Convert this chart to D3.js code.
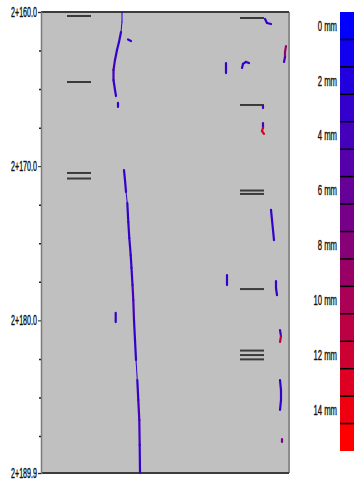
<!DOCTYPE html>
<html>
<head>
<meta charset="utf-8">
<script src="https://cdn.jsdelivr.net/npm/d3@7"></script>
<style>
	body { margin: 0; background: #fff; }
	text { font-family: "Liberation Sans", Arial, sans-serif; fill: #111; }
</style>
</head>
<body>
<div id="chart"></div>
<script>
// stations along the strip (m after 2+000)
const stations = [160, 170, 180, 189.9];
const minorStations = [162.5, 165, 167.5, 172.5, 175, 177.5, 182.5, 185, 187.5];
const widthClasses = d3.range(16); // crack width classes, mm
const legendLabels = [0, 2, 4, 6, 8, 10, 12, 14];

// joint marks, by column
const markColumns = [[26, 50], [199, 223]];
const leftMarks = [160.26, 164.54, 170.44, 170.80];
const rightMarks = [160.39, 166.03, 171.58, 171.80, 177.97, 181.96, 182.25, 182.53];

// cracks: [offset cm, station m, width mm]
const crackA = [[81, 160.0, 1], [81, 160.65, 1], [80, 161.30, 2], [78, 161.95, 3], [76, 162.46, 3],
	[74, 163.11, 3], [72.5, 163.76, 4], [72.5, 164.41, 3], [74, 165.06, 3], [75, 165.45, 3]];
const crackB = [[83, 170.25, 3], [84, 170.90, 3], [85, 171.67, 1], [86.3, 172.39, 3], [87.3, 173.62, 3],
	[88.3, 174.66, 3], [89.7, 175.76, 3], [90.5, 176.60, 3], [91.5, 177.71, 3], [92.3, 178.68, 4],
	[93, 179.98, 3], [94, 181.27, 3], [95, 182.57, 1], [96.3, 183.87, 3], [97.3, 185.17, 3],
	[98.3, 186.46, 4], [98.7, 188.08, 3], [99, 189.9, 3]];
const fragments = [
	[[77, 165.90, 3], [77, 166.16, 3]],
	[[87, 161.78, 3], [90, 161.88, 3]],
	[[74.7, 179.52, 3], [74.7, 180.11, 3]],
	[[224, 160.45, 3], [226, 160.71, 3], [230, 160.78, 3]],
	[[245, 162.21, 5], [244, 162.59, 9], [244, 162.92, 4], [243, 163.24, 4]],
	[[185, 163.31, 3], [185, 163.63, 3], [185, 163.96, 3]],
	[[201, 163.63, 3], [202, 163.37, 3], [205, 163.24, 3], [208, 163.31, 3]],
	[[222, 166.10, 4], [222, 166.23, 4]],
	[[222, 167.20, 4], [222, 167.52, 4], [221, 167.72, 13], [223, 167.91, 13]],
	[[230, 172.84, 3], [231, 173.49, 3], [232, 174.14, 3], [233, 174.79, 3]],
	[[186, 177.06, 3], [186, 177.71, 3]],
	[[235, 177.45, 3], [235, 177.90, 3], [236, 178.36, 3]],
	[[239, 180.63, 3], [240, 181.02, 4], [239, 181.40, 11]],
	[[239, 183.87, 3], [240, 184.52, 3], [240, 185.17, 3], [239, 185.81, 3]],
	[[241, 187.70, 7], [241, 187.89, 7]]
];

const W = 354, H = 480;
const svg = d3.select('#chart').append('svg')
	.attr('width', W)
	.attr('height', H);

const x = d3.scaleLinear().domain([0, 248]).range([41, 289]);
const y = d3.scaleLinear().domain([160, 189.9]).range([12, 473]);
const color = d3.scaleOrdinal()
	.domain(widthClasses)
	.range(widthClasses.map(i => d3.interpolateRgb('#0000ff', '#ff0000')(i / 15)));

// plot background
svg.append('rect')
	.attr('x', x(0)).attr('y', y(160))
	.attr('width', x(248) - x(0)).attr('height', y(189.9) - y(160))
	.style('fill', '#c0c0c0');

// frame
svg.append('line').attr('x1', x(248)).attr('x2', x(248)).attr('y1', y(160)).attr('y2', y(189.9))
	.style('stroke', '#8c8c8c').style('stroke-width', 2);
svg.append('line').attr('x1', x(0)).attr('x2', x(248)).attr('y1', y(160)).attr('y2', y(160))
	.style('stroke', '#3c3c3c').style('stroke-width', 2);
svg.append('line').attr('x1', x(0)).attr('x2', x(248)).attr('y1', y(189.9)).attr('y2', y(189.9))
	.style('stroke', '#3c3c3c').style('stroke-width', 2);

// axes (labels squeezed horizontally, like the narrow font of the original)
const squeeze = 0.51;
const yAxis = svg.append('g')
	.attr('transform', `translate(${x(0)},0)`)
	.call(d3.axisLeft(y).tickValues(stations).tickSize(3).tickPadding(2)
		.tickFormat(d => '2+' + d3.format('.1f')(d)));
yAxis.select('.domain').style('stroke', '#7a7a7a').style('stroke-width', 1.5);
yAxis.selectAll('.tick line').style('stroke', '#222');
yAxis.selectAll('.tick text')
	.attr('font-size', 14)
	.attr('x', -4 / squeeze)
	.attr('transform', `scale(${squeeze},1)`)
	.style('fill', '#111')
	.style('stroke', '#111')
	.style('stroke-width', 0.4);

const minorAxis = svg.append('g')
	.attr('transform', `translate(${x(0)},0)`)
	.call(d3.axisLeft(y).tickValues(minorStations).tickSize(2).tickFormat(''));
minorAxis.select('.domain').remove();
minorAxis.selectAll('.tick line').style('stroke', '#222').style('stroke-width', 1.5);

// joint marks
const marks = [];
leftMarks.forEach(s => marks.push({col: 0, s: s}));
rightMarks.forEach(s => marks.push({col: 1, s: s}));
svg.append('g').selectAll('line').data(marks).enter().append('line')
	.attr('x1', d => x(markColumns[d.col][0]))
	.attr('x2', d => x(markColumns[d.col][1]))
	.attr('y1', d => y(d.s))
	.attr('y2', d => y(d.s))
	.style('stroke', '#3a3a3a')
	.style('stroke-width', 2);

// cracks drawn segment by segment, coloured by width class
const segments = [];
[crackA, crackB].concat(fragments).forEach(c => {
	for (let i = 0; i < c.length - 1; i++) segments.push([c[i], c[i + 1]]);
});
svg.append('g').selectAll('line').data(segments).enter().append('line')
	.attr('x1', d => x(d[0][0])).attr('y1', d => y(d[0][1]))
	.attr('x2', d => x(d[1][0])).attr('y2', d => y(d[1][1]))
	.style('stroke', d => color(Math.max(d[0][2], d[1][2])))
	.style('stroke-width', d => d[0][2] <= 1 ? 1 : 2.2)
	.style('stroke-linecap', 'round');

// legend
const ly = d3.scaleBand().domain(widthClasses).range([12, 451]);
const legend = svg.append('g');
legend.selectAll('rect').data(widthClasses).enter().append('rect')
	.attr('x', 340).attr('y', d => ly(d))
	.attr('width', 14).attr('height', ly.bandwidth())
	.style('fill', d => color(d));
legend.selectAll('line').data(widthClasses.slice(1)).enter().append('line')
	.attr('x1', 340).attr('x2', 354)
	.attr('y1', d => ly(d)).attr('y2', d => ly(d))
	.style('stroke', '#000').style('stroke-width', 1.5);
legend.selectAll('text').data(legendLabels).enter().append('text')
	.attr('transform', d => `translate(337,${ly(d) + ly.bandwidth() / 2}) scale(0.55,1)`)
	.attr('dy', '0.35em')
	.attr('text-anchor', 'end')
	.attr('font-size', 14)
	.style('stroke', '#111')
	.style('stroke-width', 0.4)
	.text(d => d + ' mm');
</script>
</body>
</html>
